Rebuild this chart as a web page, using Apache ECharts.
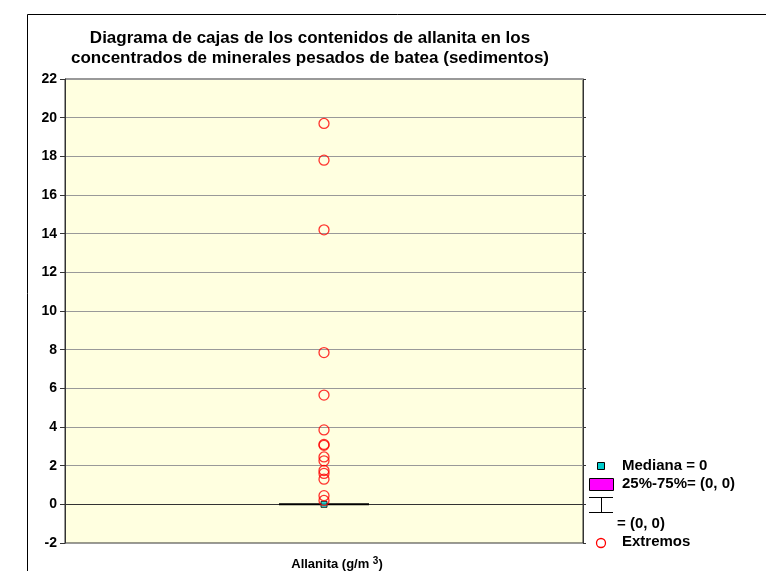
<!DOCTYPE html>
<html><head><meta charset="utf-8">
<script src="https://cdn.jsdelivr.net/npm/echarts@6/dist/echarts.min.js"></script>
<style>html,body{margin:0;padding:0;background:#fff}#c{width:766px;height:571px}</style>
</head><body><div id="c"></div>
<script>
const categories = ['Allanita'];
const boxValues = [[0, 0, 0, 0, 0]]; // min, Q1, median, Q3, max
const medianValues = [0];
const extremes = [19.7, 17.8, 14.2, 7.85, 5.65, 3.85, 3.1, 3.05, 2.45, 2.25, 1.75, 1.6, 1.3, 0.45, 0.2];
const yTicks = {min: -2, max: 22, interval: 2};

const F = 'Liberation Sans, Arial, sans-serif';
const chart = echarts.init(document.getElementById('c'));
chart.setOption({
  animation: false,
  backgroundColor: '#fff',
  title: {
    text: 'Diagrama de cajas de los contenidos de allanita en los\nconcentrados de minerales pesados de batea (sedimentos)',
    left: 305, top: 23, textAlign: 'center',
    textStyle: {fontFamily: F, fontSize: 17, fontWeight: 'bold', color: '#000', lineHeight: 20}
  },
  grid: {left: 65, top: 79, width: 518, height: 464, show: true, backgroundColor: '#FFFFE0', borderColor: '#333', borderWidth: 1, outerBoundsMode: 'none'},
  xAxis: {
    type: 'category', data: categories,
    axisLabel: {show: false}, axisTick: {show: false},
    axisLine: {lineStyle: {color: '#333'}},
    name: '{a|Allanita (g/m }{s|3}{a|)}', nameLocation: 'middle', nameGap: 13,
    nameTextStyle: {padding: [0, 0, 0, 26], rich: {a: {fontFamily: F, fontSize: 13, fontWeight: 'bold', color: '#000'}, s: {fontFamily: F, fontSize: 10, fontWeight: 'bold', color: '#000', verticalAlign: 'top', padding:[0,0,6,0]}}}
  },
  yAxis: [{
    type: 'value', min: yTicks.min, max: yTicks.max, interval: yTicks.interval,
    axisLine: {show: true, lineStyle: {color: '#333'}},
    axisTick: {show: true, length: 5, lineStyle: {color: '#333'}},
    axisLabel: {fontFamily: F, fontSize: 14, fontWeight: 'bold', color: '#000', margin: 8},
    splitLine: {lineStyle: {color: '#999', width: 1}}
  }, {
    type: 'value', position: 'right', min: yTicks.min, max: yTicks.max, interval: yTicks.interval,
    axisLine: {show: true, lineStyle: {color: '#333'}},
    axisTick: {show: true, length: 3, lineStyle: {color: '#333'}},
    axisLabel: {show: false}, splitLine: {show: false}
  }],
  series: [{
    type: 'boxplot', data: boxValues, boxWidth: [90, 90],
    itemStyle: {color: '#FF00FF', borderColor: '#000', borderWidth: 2}
  }, {
    type: 'scatter', data: medianValues.map(v => [0, v]), symbol: 'rect', symbolSize: 6,
    itemStyle: {color: '#00CCCC', borderColor: '#000', borderWidth: 1}, z: 3
  }, {
    type: 'scatter', data: extremes.map(v => [0, v]), symbol: 'circle', symbolSize: 10,
    itemStyle: {color: 'rgba(0,0,0,0)', borderColor: '#FF0000', borderWidth: 1.3}, z: 4
  }],
  graphic: [
    {type: 'rect', shape: {x: 27.5, y: 14.5, width: 800, height: 600}, style: {fill: 'none', stroke: '#000', lineWidth: 1}, silent: true, z: -1},
    {type: 'rect', shape: {x: 597.5, y: 462.5, width: 7, height: 7}, style: {fill: '#00CCCC', stroke: '#000', lineWidth: 1}},
    {type: 'text', left: 622, top: 458, style: {text: 'Mediana = 0', font: 'bold 15px ' + F, fill: '#000'}},
    {type: 'rect', shape: {x: 589.5, y: 478.5, width: 24, height: 12}, style: {fill: '#FF00FF', stroke: '#000', lineWidth: 1}},
    {type: 'text', left: 622, top: 476, style: {text: '25%-75%= (0, 0)', font: 'bold 15px ' + F, fill: '#000'}},
    {type: 'line', shape: {x1: 589, y1: 497.5, x2: 613, y2: 497.5}, style: {stroke: '#000', lineWidth: 1}},
    {type: 'line', shape: {x1: 601.5, y1: 497.5, x2: 601.5, y2: 512}, style: {stroke: '#000', lineWidth: 1}},
    {type: 'line', shape: {x1: 589, y1: 512.5, x2: 613, y2: 512.5}, style: {stroke: '#000', lineWidth: 1}},
    {type: 'text', left: 617, top: 516, style: {text: '= (0, 0)', font: 'bold 15px ' + F, fill: '#000'}},
    {type: 'circle', shape: {cx: 601, cy: 543, r: 4.5}, style: {fill: 'none', stroke: '#FF0000', lineWidth: 1.3}},
    {type: 'text', left: 622, top: 534, style: {text: 'Extremos', font: 'bold 15px ' + F, fill: '#000'}}
  ]
});
</script></body></html>
